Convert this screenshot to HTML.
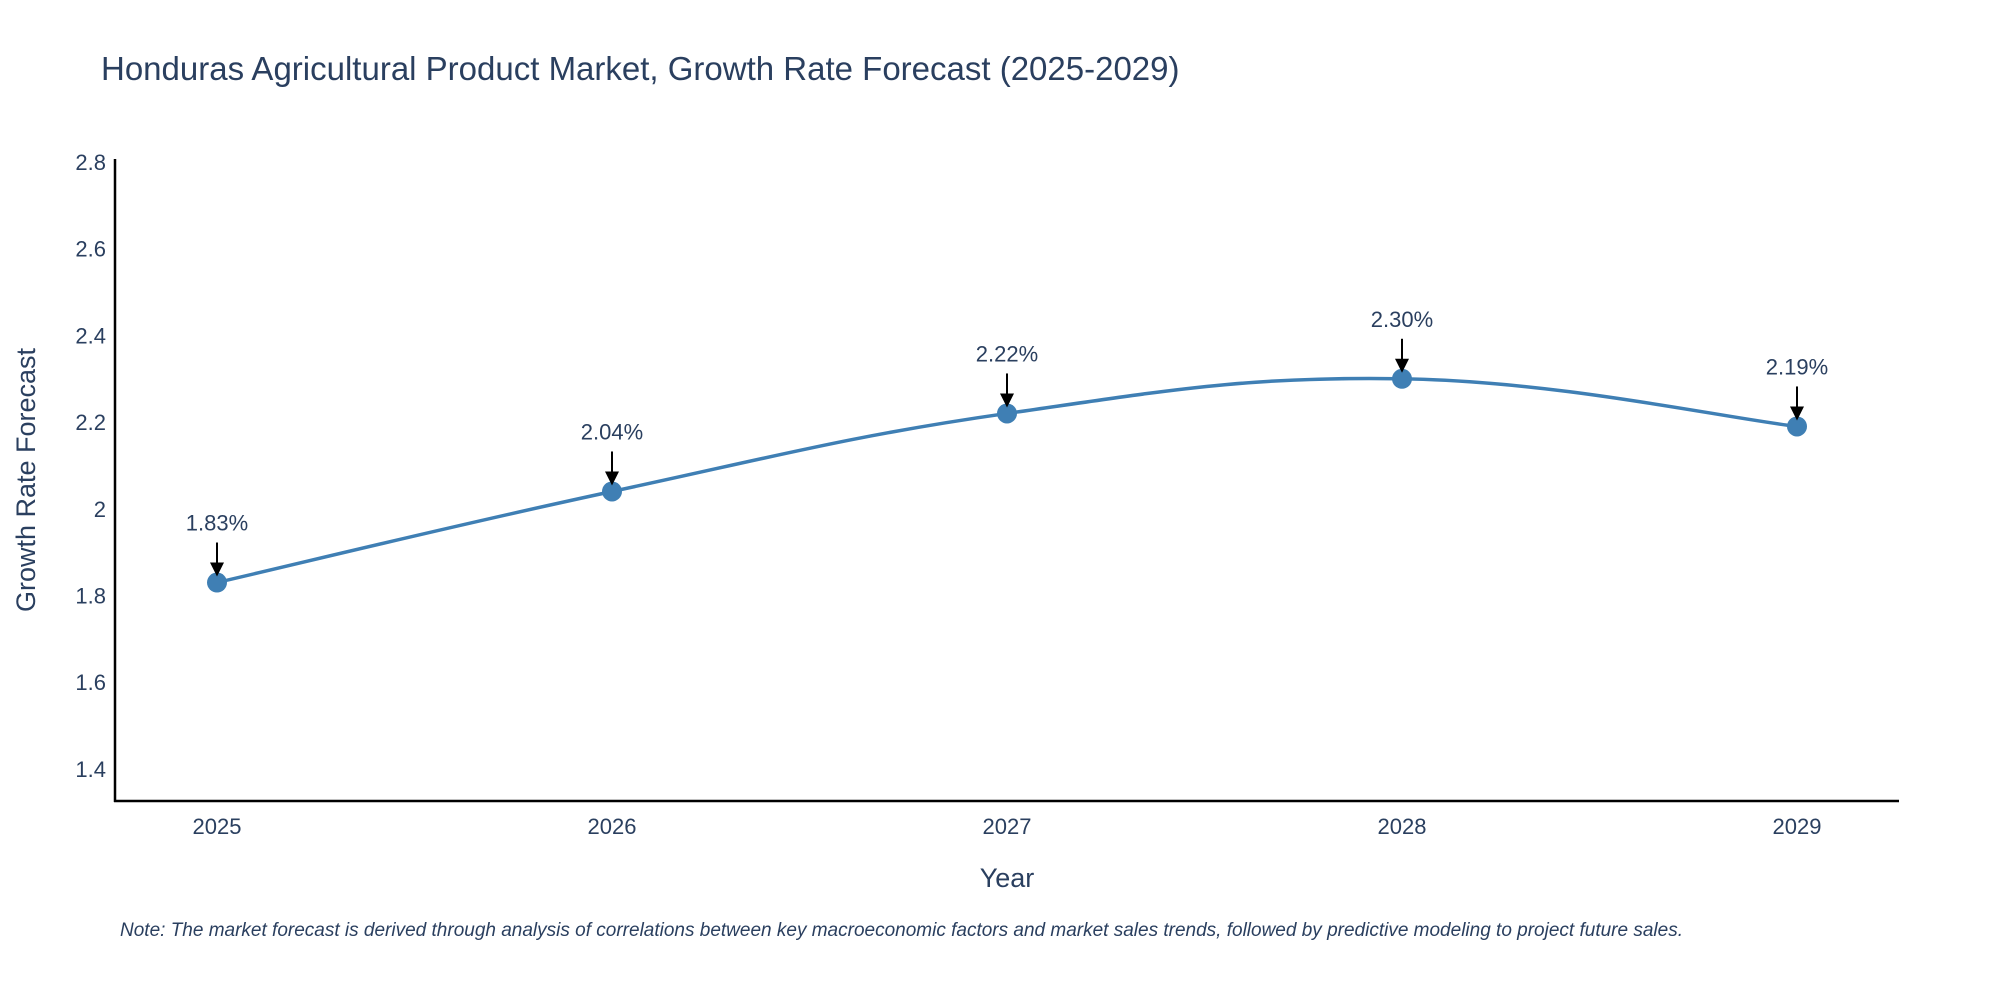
<!DOCTYPE html>
<html><head><meta charset="utf-8"><style>
html,body{margin:0;padding:0;background:#fff;}
svg{display:block;font-family:"Liberation Sans",sans-serif;}
</style></head><body>
<svg id="chart" width="2000" height="1000" viewBox="0 0 2000 1000">
<text x="101" y="80" font-size="33" fill="#2a3f5f">Honduras Agricultural Product Market, Growth Rate Forecast (2025-2029)</text>
<g id="yticks"></g>
<g id="xticks"></g>
<line x1="115" y1="159" x2="115" y2="802" stroke="#000" stroke-width="2.5"/>
<line x1="114" y1="801" x2="1899" y2="801" stroke="#000" stroke-width="2.5"/>
<text x="0" y="0" transform="translate(35,480) rotate(-90)" text-anchor="middle" font-size="27" fill="#2a3f5f">Growth Rate Forecast</text>
<text x="1007" y="887" text-anchor="middle" font-size="27" fill="#2a3f5f">Year</text>
<g id="series"></g>
<g id="annots"></g>
<text x="120" y="936" font-size="19" font-style="italic" fill="#2a3f5f">Note: The market forecast is derived through analysis of correlations between key macroeconomic factors and market sales trends, followed by predictive modeling to project future sales.</text>
</svg>
<script>
const years = [2025, 2026, 2027, 2028, 2029];
const growth = [1.83, 2.04, 2.22, 2.30, 2.19];
const labels = ["1.83%", "2.04%", "2.22%", "2.30%", "2.19%"];
const yTicks = [1.4, 1.6, 1.8, 2.0, 2.2, 2.4, 2.6, 2.8];
const yTickLabels = ["1.4", "1.6", "1.8", "2", "2.2", "2.4", "2.6", "2.8"];

const NS = "http://www.w3.org/2000/svg";
const X = v => 217 + (v - 2025) * 395;
const Y = v => 801 - (v - 1.326) * 433.5;
function mk(tag, attrs, parent) {
  const e = document.createElementNS(NS, tag);
  for (const k in attrs) e.setAttribute(k, attrs[k]);
  parent.appendChild(e);
  return e;
}
const yt = document.getElementById('yticks');
yTicks.forEach((t, i) => {
  const e = mk('text', {x: 106, y: Y(t) + 8, 'text-anchor': 'end', 'font-size': 22, fill: '#2a3f5f'}, yt);
  
  
  e.textContent = yTickLabels[i];
});
const xt = document.getElementById('xticks');
years.forEach(yr => {
  const e = mk('text', {x: X(yr), y: 834, 'text-anchor': 'middle', 'font-size': 22, fill: '#2a3f5f'}, xt);
  
  
  e.textContent = String(yr);
});
// spline path (Catmull-Rom)
const pts = years.map((yr, i) => [X(yr), Y(growth[i])]);
let d = `M${pts[0][0]},${pts[0][1]}`;
const s = 0.2;
for (let i = 0; i < pts.length - 1; i++) {
  const p0 = pts[Math.max(0, i - 1)], p1 = pts[i], p2 = pts[i + 1], p3 = pts[Math.min(pts.length - 1, i + 2)];
  const c1 = [p1[0] + (p2[0] - p0[0]) * s, p1[1] + (p2[1] - p0[1]) * s];
  const c2 = [p2[0] - (p3[0] - p1[0]) * s, p2[1] - (p3[1] - p1[1]) * s];
  d += ` C${c1[0]},${c1[1]} ${c2[0]},${c2[1]} ${p2[0]},${p2[1]}`;
}
const ser = document.getElementById('series');
const line = mk('path', {d: d, fill: 'none', stroke: '#3f7fb4', 'stroke-width': 3.5}, ser);


pts.forEach(p => {
  const c = mk('circle', {cx: p[0], cy: p[1], r: 10, fill: '#3f7fb4'}, ser);
  
  
});
const an = document.getElementById('annots');
pts.forEach((p, i) => {
  const t = mk('text', {x: p[0], y: p[1] - 52, 'text-anchor': 'middle', 'font-size': 22, fill: '#2a3f5f'}, an);
  
  
  t.textContent = labels[i];
  const l = mk('line', {x1: p[0], y1: p[1] - 40, x2: p[0], y2: p[1] - 18, stroke: '#000', 'stroke-width': 2}, an);
  
  
  const h = mk('polygon', {points: `${p[0]-7},${p[1]-20} ${p[0]+7},${p[1]-20} ${p[0]},${p[1]-6}`, fill: '#000'}, an);
  
  
});
</script>
</body></html>
